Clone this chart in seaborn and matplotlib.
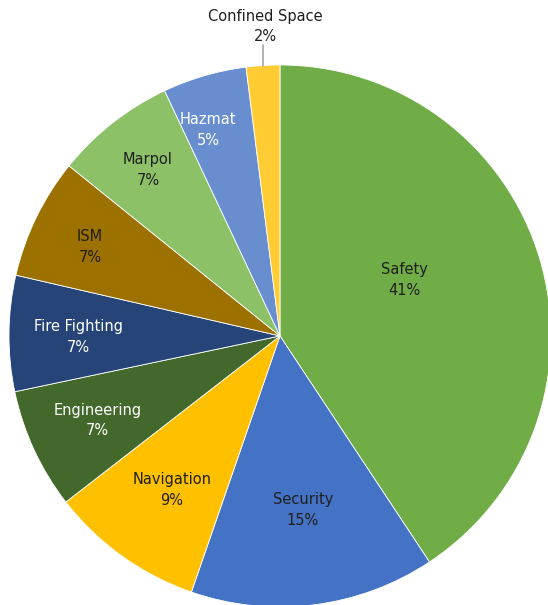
import matplotlib
matplotlib.use("Agg")
import matplotlib.pyplot as plt
import seaborn as sns
import numpy as np

categories = ['Safety', 'Security', 'Navigation', 'Engineering', 'Fire Fighting',
              'ISM', 'Marpol', 'Hazmat', 'Confined Space']
shares = [40.7, 14.6, 9.2, 7.2, 6.9, 7.2, 7.2, 5.0, 2.0]
colors = ['#70AD47', '#4472C4', '#FFC000', '#43682B', '#264478',
          '#9C7100', '#8CC168', '#698ED0', '#FFCD33']
text_colors = ['#1f1f1f', '#1f1f1f', '#1f1f1f', 'white', 'white',
               '#1f1f1f', '#1f1f1f', 'white', '#1f1f1f']
# label placement (radius as fraction of pie radius, angle shift in degrees)
label_radius = [0.505, 0.648, 0.694, 0.743, 0.745, 0.774, 0.783, 0.805, 1.145]
label_shift = [7.4, 0.3, 0.6, 0.0, 0.8, 0.8, 0.3, 3.1, 0.0]

sns.set_theme(style="white")
plt.rcParams['font.family'] = ['DejaVu Sans']

fig = plt.figure(figsize=(5.48, 6.05), dpi=100)
ax = fig.add_axes([0.0164, -0.0033, 0.989, 0.896])

wedges, _ = ax.pie(shares, colors=colors, startangle=90, counterclock=False,
                   wedgeprops=dict(edgecolor='white', linewidth=0.6))

for w, name, pct, r, sh, tc in zip(wedges, categories, shares, label_radius,
                                   label_shift, text_colors):
    mid = np.deg2rad((w.theta1 + w.theta2) / 2)
    ang = mid + np.deg2rad(sh)
    x, y = r * np.cos(ang), r * np.sin(ang)
    if r > 1:
        ax.plot([np.cos(mid), np.cos(mid)], [np.sin(mid), 1.075], color='#a6a6a6', lw=1.2,
                clip_on=False)
        x = np.cos(mid) + 0.01
    ax.text(x, y, f"{name}\n{pct:.0f}%", ha='center', va='center', color=tc,
            fontsize=10.5, linespacing=1.45)

ax.set_xlim(-1, 1)
ax.set_ylim(-1, 1)
ax.set_aspect('equal')
ax.axis('off')
fig.savefig("out.png", dpi=100)
